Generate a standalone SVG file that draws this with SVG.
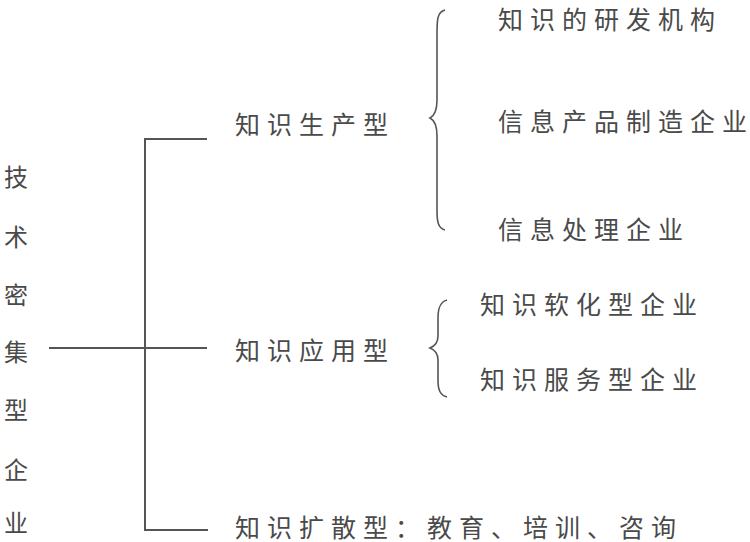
<svg xmlns="http://www.w3.org/2000/svg" width="750" height="542" viewBox="0 0 750 542">
<style>
.t{font-family:"Noto Sans CJK SC","Noto Sans CJK JP",sans-serif;font-size:25px;fill:#4a4a4a;letter-spacing:7px}
.v{font-family:"Noto Sans CJK SC","Noto Sans CJK JP",sans-serif;font-size:24px;fill:#4a4a4a;text-anchor:middle}
.ln{stroke:#555;stroke-width:2;fill:none}
.br{stroke:#555;stroke-width:1.6;fill:none}
</style>
<rect width="750" height="542" fill="#fff"/>
<g id="root">
<text class="v" x="16" y="186">技</text>
<text class="v" x="16" y="246">术</text>
<text class="v" x="16" y="304">密</text>
<text class="v" x="16" y="361">集</text>
<text class="v" x="16" y="419">型</text>
<text class="v" x="16" y="479">企</text>
<text class="v" x="16" y="532">业</text>
</g>
<g id="connectors">
<path class="ln" d="M207,139 H145 V530 H208"/>
<path class="ln" d="M49,348 H207"/>
<path class="br" d="M445,10 C437,12 437,20 437,35 L437,100 C437,112 434,116 430,118 C434,120 437,124 437,136 L437,210 C437,222 438,228 445,230"/>
<path class="br" d="M447,300 C440,302 438,308 438,318 L438,336 C438,343 435,346 430,348 C435,350 438,353 438,360 L438,380 C438,390 440,395 447,397"/>
</g>
<g id="n-production"><text class="t" x="235" y="134">知识生产型</text></g>
<g id="n-application"><text class="t" x="235" y="360">知识应用型</text></g>
<g id="n-diffusion"><text class="t" x="235" y="537">知识扩散型：教育、培训、咨询</text></g>
<g id="n-rd"><text class="t" x="498" y="29">知识的研发机构</text></g>
<g id="n-info-product"><text class="t" x="498" y="131">信息产品制造企业</text></g>
<g id="n-info-process"><text class="t" x="498" y="239">信息处理企业</text></g>
<g id="n-soft"><text class="t" x="480" y="314">知识软化型企业</text></g>
<g id="n-service"><text class="t" x="480" y="389">知识服务型企业</text></g>
</svg>
